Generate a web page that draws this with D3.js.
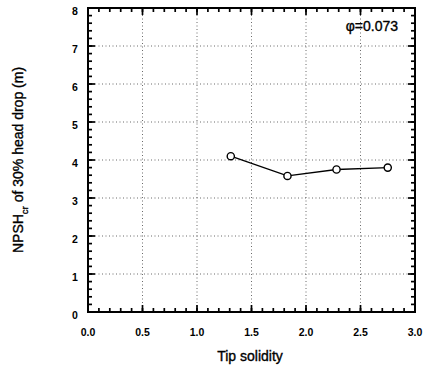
<!DOCTYPE html>
<html>
<head>
<meta charset="utf-8">
<script src="https://cdn.jsdelivr.net/npm/d3@7"></script>
<style>
  html, body { margin: 0; padding: 0; background: #fff; }
  svg { display: block; font-family: "Liberation Sans", Arial, sans-serif; }
</style>
</head>
<body>
<svg id="chart" width="426" height="368"></svg>
<script>
// Tip solidity vs. NPSH at 30% head drop
const solidity = [1.31, 1.83, 2.28, 2.75];
const npsh = [4.1, 3.58, 3.75, 3.8];
const xTicks = [0.0, 0.5, 1.0, 1.5, 2.0, 2.5, 3.0];
const yTicks = [0, 1, 2, 3, 4, 5, 6, 7, 8];
const flowLabel = "\u03C6=0.073";

const svg = d3.select("#chart");
const m = { left: 88, right: 415, top: 8, bottom: 312 };

const x = d3.scaleLinear().domain([0, 3]).range([m.left, m.right]);
const y = d3.scaleLinear().domain([0, 8]).range([m.bottom, m.top]);

// dotted grid at major ticks
const grid = svg.append("g").attr("stroke", "#444").attr("stroke-width", 0.8)
  .attr("stroke-dasharray", "1,2.5");
grid.selectAll(".gx").data(xTicks.slice(1, -1)).join("line")
  .attr("x1", d => x(d)).attr("x2", d => x(d))
  .attr("y1", m.top).attr("y2", m.bottom);
grid.selectAll(".gy").data(yTicks.slice(1, -1)).join("line")
  .attr("x1", m.left).attr("x2", m.right)
  .attr("y1", d => y(d)).attr("y2", d => y(d));

// inward ticks on all four sides: minor every 0.1 (x) / 0.2 (y), major at labels
const xMinor = d3.range(0, 31).map(i => i / 10);
const yMinor = d3.range(0, 41).map(i => i / 5);
const tickLayer = svg.append("g").attr("stroke", "#000").attr("stroke-width", 1.7);
function xTickMarks(vals, len) {
  tickLayer.append("g").selectAll("line").data(vals).join("line")
    .attr("x1", d => x(d)).attr("x2", d => x(d))
    .attr("y1", m.bottom).attr("y2", m.bottom - len);
  tickLayer.append("g").selectAll("line").data(vals).join("line")
    .attr("x1", d => x(d)).attr("x2", d => x(d))
    .attr("y1", m.top).attr("y2", m.top + len);
}
function yTickMarks(vals, len) {
  tickLayer.append("g").selectAll("line").data(vals).join("line")
    .attr("y1", d => y(d)).attr("y2", d => y(d))
    .attr("x1", m.left).attr("x2", m.left + len);
  tickLayer.append("g").selectAll("line").data(vals).join("line")
    .attr("y1", d => y(d)).attr("y2", d => y(d))
    .attr("x1", m.right).attr("x2", m.right - len);
}
xTickMarks(xMinor, 4);
xTickMarks(xTicks, 7);
yTickMarks(yMinor, 4);
yTickMarks(yTicks, 7);

// frame
svg.append("rect")
  .attr("x", m.left).attr("y", m.top)
  .attr("width", m.right - m.left).attr("height", m.bottom - m.top)
  .attr("fill", "none").attr("stroke", "#000").attr("stroke-width", 2);

// tick labels
svg.append("g").selectAll("text").data(xTicks).join("text")
  .attr("x", d => x(d)).attr("y", m.bottom + 24)
  .attr("text-anchor", "middle").attr("font-size", 10.5).attr("font-weight", "bold")
  .text(d => d.toFixed(1));
svg.append("g").selectAll("text").data(yTicks).join("text")
  .attr("x", 75).attr("y", d => y(d) + 7)
  .attr("text-anchor", "middle").attr("font-size", 10.5).attr("font-weight", "bold")
  .text(d => d);

// axis titles
svg.append("text")
  .attr("x", 250).attr("y", 361)
  .attr("text-anchor", "middle").attr("font-size", 14)
  .attr("stroke", "#000").attr("stroke-width", 0.35)
  .text("Tip solidity");

const yt = svg.append("text")
  .attr("transform", `translate(23,${(m.top + m.bottom) / 2}) rotate(-90)`)
  .attr("text-anchor", "middle").attr("font-size", 14)
  .attr("stroke", "#000").attr("stroke-width", 0.35);
yt.append("tspan").text("NPSH");
yt.append("tspan").attr("font-size", 9.5).attr("dy", 5).text("cr");
yt.append("tspan").attr("dy", -5).text(" of 30% head drop (m)");

// flow coefficient annotation
svg.append("text")
  .attr("x", 398).attr("y", 31).attr("text-anchor", "end")
  .attr("font-size", 14).attr("stroke", "#000").attr("stroke-width", 0.35)
  .text(flowLabel);

// data line and open circle markers
const line = d3.line().x((d, i) => x(solidity[i])).y(d => y(d));
svg.append("path").datum(npsh).attr("d", line)
  .attr("fill", "none").attr("stroke", "#000").attr("stroke-width", 1.3);
svg.append("g").selectAll("circle").data(npsh).join("circle")
  .attr("cx", (d, i) => x(solidity[i])).attr("cy", d => y(d)).attr("r", 3.6)
  .attr("fill", "#fff").attr("stroke", "#000").attr("stroke-width", 1.4);
</script>
</body>
</html>
